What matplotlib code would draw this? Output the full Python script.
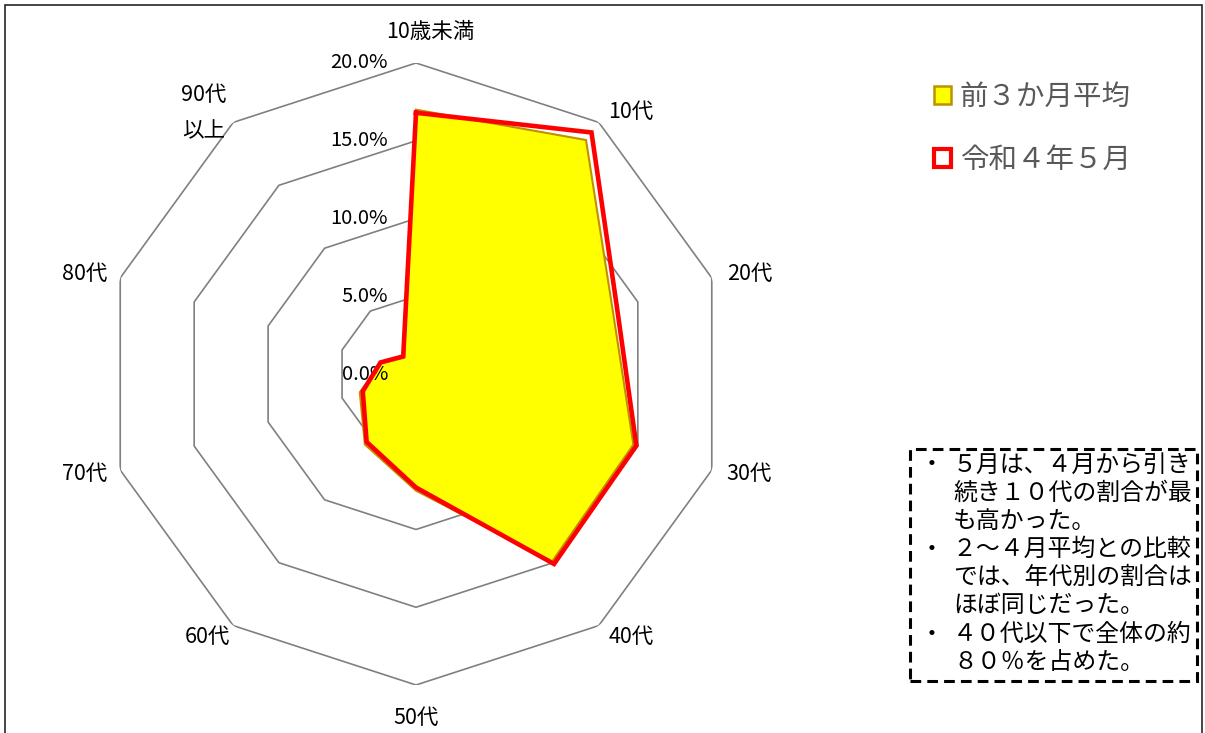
import numpy as np
import matplotlib
matplotlib.use('Agg')
import matplotlib.pyplot as plt
from matplotlib.patches import Patch, Rectangle

plt.rcParams['font.family'] = ['Noto Sans CJK JP', 'DejaVu Sans']

# データ（割合 %）
categories = ['10歳未満', '10代', '20代', '30代', '40代',
              '50代', '60代', '70代', '80代', '90代\n以上']
avg_3months = [17.0, 18.6, 13.3, 14.7, 14.9, 7.5, 5.6, 3.8, 2.3, 1.3]
may_r4 = [16.8, 19.2, 13.6, 14.9, 15.1, 7.3, 5.4, 3.6, 2.4, 1.4]
ring_values = [0, 5, 10, 15, 20]
ring_labels = ['0.0%', '5.0%', '10.0%', '15.0%', '20.0%']
series_names = ['前３か月平均', '令和４年５月']
comment_lines = [
    ('・', '５月は、４月から引き'),
    ('', '続き１０代の割合が最'),
    ('', 'も高かった。'),
    ('・', '２～４月平均との比較'),
    ('', 'では、年代別の割合は'),
    ('', 'ほぼ同じだった。'),
    ('・', '４０代以下で全体の約'),
    ('', '８０％を占めた。'),
]

# 項目ラベルの微調整（ピクセル）
label_shift = [(14, 0), (14, -15), (8, -6), (8, 6), (14, 14),
               (0, -2), (-7, 14), (-6, 6), (-6, -6), (-11, -16)]

W, H = 1205, 733
fig = plt.figure(figsize=(W / 100, H / 100), dpi=100)

# 外枠
fig.patches.append(Rectangle((5 / W, -0.02), (1202 - 5) / W, 1.02 - 5 / H,
                             transform=fig.transFigure, fill=False,
                             edgecolor='#262626', lw=1.2))

cx, cy, R = 416, 374, 311
ax = fig.add_axes([(cx - R) / W, (H - cy - R) / H, 2 * R / W, 2 * R / H],
                  projection='polar')
ax.set_theta_zero_location('N')
ax.set_theta_direction(-1)
ax.set_ylim(0, 20)
ax.grid(False)
ax.set_xticks([])
ax.set_yticks([])
ax.spines['polar'].set_visible(False)
ax.patch.set_alpha(0)

n = len(categories)
theta = np.linspace(0, 2 * np.pi, n, endpoint=False)
theta_c = np.append(theta, theta[0])

# 十角形の目盛線
for rv in ring_values[1:]:
    ax.plot(theta_c, [rv] * (n + 1), color='#808080', lw=1.2, zorder=1)

for rv, lab in zip(ring_values, ring_labels):
    ax.annotate(lab, xy=(0, rv), xytext=(-28, 0), textcoords='offset pixels',
                ha='right', va='center', fontsize=14.5, color='#000000')

for t, lab, sh in zip(theta, categories, label_shift):
    ax.annotate(lab, xy=(t, 22.0), xytext=sh, textcoords='offset pixels',
                ha='center', va='center', fontsize=15.5, linespacing=1.85,
                annotation_clip=False)

avg_c = avg_3months + avg_3months[:1]
may_c = may_r4 + may_r4[:1]
ax.fill(theta_c, avg_c, facecolor='#FFFF00', edgecolor='#BF9000', lw=1.5, zorder=2)
ax.plot(theta_c, may_c, color='#FF0000', lw=3.3, zorder=3, solid_joinstyle='miter')

# 凡例
handles = [Patch(facecolor='#FFFF00', edgecolor='#BF9000', lw=1.8),
           Patch(facecolor='white', edgecolor='#FF0000', lw=3.0)]
fig.legend(handles, series_names, loc='upper left',
           bbox_to_anchor=(934 / W, 1 - 82 / H), frameon=False,
           fontsize=20.5, labelcolor='#595959', handlelength=0.6,
           handleheight=0.6, handletextpad=0.3, labelspacing=1.15,
           borderpad=0, borderaxespad=0)

# コメント枠
bx0, bx1, by0, by1 = 910, 1197, 449, 681
fig.patches.append(Rectangle((bx0 / W, 1 - by1 / H), (bx1 - bx0) / W,
                             (by1 - by0) / H, transform=fig.transFigure,
                             fill=False, edgecolor='black', lw=2.2,
                             linestyle=(0, (3.5, 2))))
for k, (bullet, txt) in enumerate(comment_lines):
    y = 1 - (465 + k * 28.2) / H
    if bullet:
        fig.text(932 / W, y, bullet, ha='center', va='center', fontsize=17.2)
    fig.text(953 / W, y, txt, ha='left', va='center', fontsize=17.2)

fig.savefig('out.png', dpi=100)
